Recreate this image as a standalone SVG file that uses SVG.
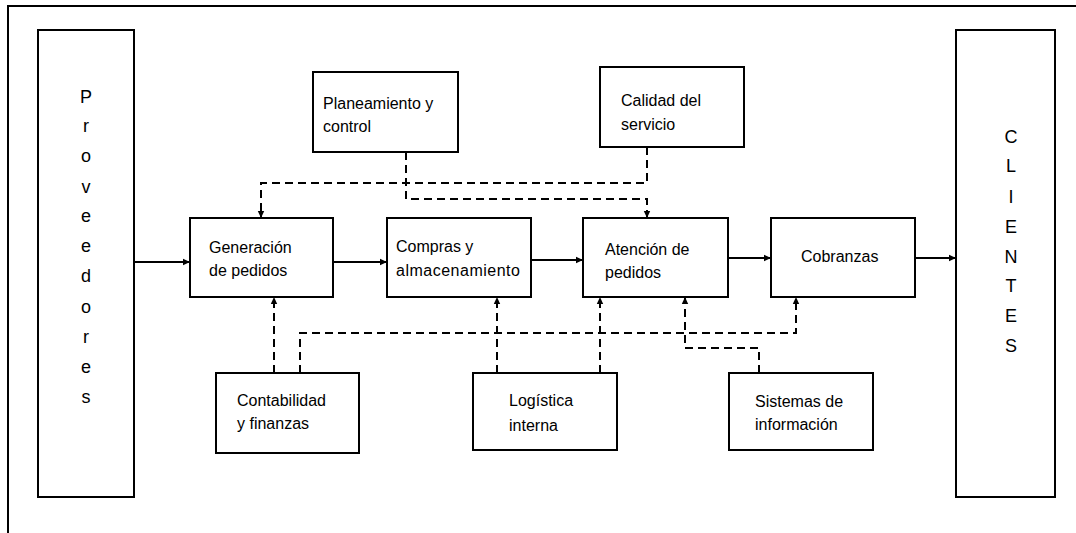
<svg xmlns="http://www.w3.org/2000/svg" width="1076" height="533" viewBox="0 0 1076 533">
<defs>
<style>
.box{fill:#fff;stroke:#000;stroke-width:2}
.t{font-family:"Liberation Sans",Arial,sans-serif;font-size:16px;fill:#000}
.v{font-family:"Liberation Sans",Arial,sans-serif;font-size:18px;fill:#000;text-anchor:middle}
.s{fill:none;stroke:#000;stroke-width:2;marker-end:url(#ah)}
.da{fill:none;stroke:#000;stroke-width:2;stroke-dasharray:8 5;marker-end:url(#ah)}
</style>
<marker id="ah" markerUnits="userSpaceOnUse" markerWidth="8" markerHeight="8" refX="7" refY="4" orient="auto">
<path d="M0,0.8 L7,4 L0,7.2 Z" fill="#000"/>
</marker>
</defs>
<rect width="1076" height="533" fill="#fff"/>
<path d="M8,533 V6 H1076" fill="none" stroke="#000" stroke-width="2"/>
<g id="connectors">
<path class="s" d="M134,262 H190"/>
<path class="s" d="M333,262 H387"/>
<path class="s" d="M531,260 H583"/>
<path class="s" d="M728,258 H771"/>
<path class="s" d="M915,258 H956"/>
<path class="da" d="M647,147 V183 H261 V218"/>
<path class="da" d="M406,152 V199 H647 V218"/>
<path class="da" d="M274,373 V297"/>
<path class="da" d="M300,373 V333 H796 V297"/>
<path class="da" d="M497,373 V297"/>
<path class="da" d="M600,373 V297"/>
<path class="da" d="M759,373 V348 H685 V297"/>
</g>
<g id="proveedores">
<rect class="box" x="38" y="30" width="96" height="467"/>
<text class="v" x="86" y="103">P</text>
<text class="v" x="86" y="132">r</text>
<text class="v" x="86" y="162">o</text>
<text class="v" x="86" y="193">v</text>
<text class="v" x="86" y="222">e</text>
<text class="v" x="86" y="252">e</text>
<text class="v" x="86" y="282">d</text>
<text class="v" x="86" y="313">o</text>
<text class="v" x="86" y="343">r</text>
<text class="v" x="86" y="373">e</text>
<text class="v" x="86" y="403">s</text>
</g>
<g id="clientes">
<rect class="box" x="956" y="30" width="99" height="467"/>
<text class="v" x="1011" y="143">C</text>
<text class="v" x="1011" y="172">L</text>
<text class="v" x="1011" y="203">I</text>
<text class="v" x="1011" y="233">E</text>
<text class="v" x="1011" y="263">N</text>
<text class="v" x="1011" y="292">T</text>
<text class="v" x="1011" y="322">E</text>
<text class="v" x="1011" y="352">S</text>
</g>
<g id="planeamiento">
<rect class="box" x="313" y="72" width="145" height="80"/>
<text class="t" x="323" y="109">Planeamiento y</text>
<text class="t" x="323" y="132">control</text>
</g>
<g id="calidad">
<rect class="box" x="600" y="67" width="144" height="80"/>
<text class="t" x="621" y="106">Calidad del</text>
<text class="t" x="621" y="130">servicio</text>
</g>
<g id="generacion">
<rect class="box" x="190" y="218" width="143" height="79"/>
<text class="t" x="209" y="253">Generación</text>
<text class="t" x="209" y="276">de pedidos</text>
</g>
<g id="compras">
<rect class="box" x="387" y="218" width="144" height="79"/>
<text class="t" x="396" y="252">Compras y</text>
<text class="t" x="396" y="276" letter-spacing="0.5">almacenamiento</text>
</g>
<g id="atencion">
<rect class="box" x="583" y="218" width="145" height="79"/>
<text class="t" x="605" y="255">Atención de</text>
<text class="t" x="605" y="278">pedidos</text>
</g>
<g id="cobranzas">
<rect class="box" x="771" y="218" width="144" height="79"/>
<text class="t" x="801" y="262">Cobranzas</text>
</g>
<g id="contabilidad">
<rect class="box" x="216" y="373" width="143" height="80"/>
<text class="t" x="237" y="406">Contabilidad</text>
<text class="t" x="237" y="429">y finanzas</text>
</g>
<g id="logistica">
<rect class="box" x="473" y="373" width="144" height="77"/>
<text class="t" x="509" y="406">Logística</text>
<text class="t" x="509" y="431">interna</text>
</g>
<g id="sistemas">
<rect class="box" x="729" y="373" width="144" height="77"/>
<text class="t" x="755" y="407">Sistemas de</text>
<text class="t" x="755" y="430">información</text>
</g>
</svg>
